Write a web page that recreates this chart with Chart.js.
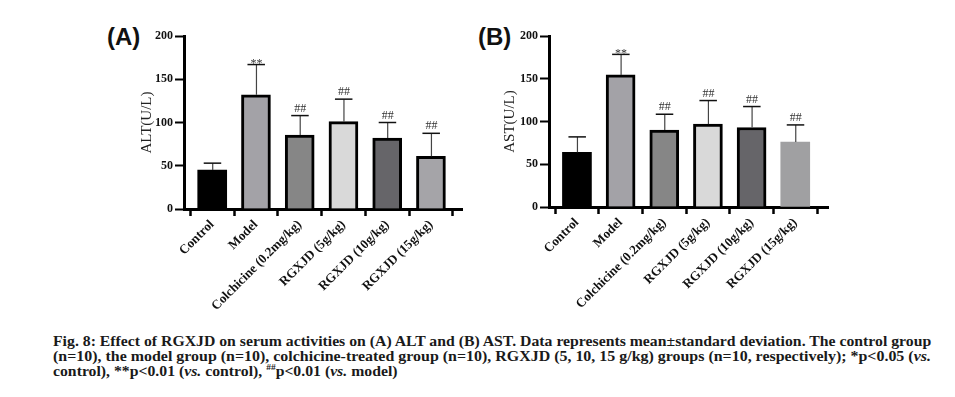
<!DOCTYPE html>
<html><head><meta charset="utf-8">
<script src="https://cdn.jsdelivr.net/npm/chart.js@4"></script>
<style>
body{margin:0;background:#fff;width:955px;height:397px;overflow:hidden;position:relative;}
canvas.panel{position:absolute;top:20px;}
.tag{position:absolute;top:25px;font:bold 24px/24px "Liberation Sans",Arial,sans-serif;color:#111;}
.cap{position:absolute;left:53px;font:bold 15px/15px "Liberation Serif","Times New Roman",serif;white-space:nowrap;transform-origin:0 0;color:#1a1a1a;}
.cap sup{font-size:9px;line-height:0;}
</style></head><body>
<div class="tag" style="left:107px">(A)</div>
<div class="tag" style="left:478px">(B)</div>
<canvas id="cA" class="panel" width="380" height="300" style="left:90px"></canvas>
<canvas id="cB" class="panel" width="380" height="300" style="left:455px"></canvas>
<div class="cap" id="l1" style="top:334px">Fig. 8: Effect of RGXJD on serum activities on (A) ALT and (B) AST. Data represents mean±standard deviation. The control group</div>
<div class="cap" id="l2" style="top:349px">(n=10), the model group (n=10), colchicine-treated group (n=10), RGXJD (5, 10, 15 g/kg) groups (n=10, respectively); *p&lt;0.05 (<i>vs.</i></div>
<div class="cap" id="l3" style="top:364px">control), **p&lt;0.01 (<i>vs.</i> control), <sup>##</sup>p&lt;0.01 (<i>vs.</i> model)</div>
<script>
const categories = ['Control','Model','Colchicine (0.2mg/kg)','RGXJD (5g/kg)','RGXJD (10g/kg)','RGXJD (15g/kg)'];
const altMean = [45, 132, 85.5, 101, 82, 61];
const altSD   = [8, 35, 22.5, 26, 18, 26.5];
const astMean = [64, 154.5, 90, 97, 93, 76];
const astSD   = [18, 24, 18.5, 27.5, 24.5, 20];
const sigMarks = ['', '**', '##', '##', '##', '##'];
const yTicks = [0, 50, 100, 150, 200];

const fillA = ['#000000','#a3a2a7','#868686','#d9d9d9','#666569','#a5a4a8'];
const fillB = ['#000000','#a3a2a7','#868686','#d9d9d9','#666569','#a0a0a2'];
const bwA = [0,3,3,3,3,3];
const bwB = [0,3,3,3,3,0];

function errPlugin(sds){
  return {
    id:'err',
    afterDatasetsDraw(chart){
      const ctx = chart.ctx, meta = chart.getDatasetMeta(0), y = chart.scales.y;
      const ds = chart.data.datasets[0].data;
      meta.data.forEach((bar,i)=>{
        const v = ds[i].y;
        const top = y.getPixelForValue(v), e = y.getPixelForValue(v + sds[i]);
        const x = bar.x;
        ctx.save();
        ctx.strokeStyle = '#444'; ctx.lineWidth = 1.2;
        ctx.beginPath(); ctx.moveTo(x+0.5, top); ctx.lineTo(x+0.5, e); ctx.stroke();
        ctx.strokeStyle = '#111'; ctx.lineWidth = 1.5;
        ctx.beginPath(); ctx.moveTo(x-8.5, e); ctx.lineTo(x+9, e); ctx.stroke();
        const s = sigMarks[i];
        if (s){
          ctx.fillStyle = '#333'; ctx.font = '12px "Liberation Serif"';
          ctx.textAlign = 'center'; ctx.textBaseline = 'alphabetic';
          ctx.fillText(s, x+0.5, s === '**' ? e + 2.5 : e - 4);
        }
        ctx.restore();
      });
    }
  };
}

function makeChart(id, means, sds, title, o){
  new Chart(document.getElementById(id), {
    type:'bar',
    data:{datasets:[{
      data: means.map((v,i)=>({x:i, y:v})),
      backgroundColor:o.fill, borderColor:'#000', borderWidth:o.bw,
      barThickness:29, borderSkipped:'bottom'
    }]},
    options:{
      responsive:false, animation:false,
      layout:{padding:{top:16, right:o.padR, left:0, bottom:0}},
      plugins:{legend:{display:false}, tooltip:{enabled:false}},
      scales:{
        x:{type:'linear', min:o.xmin, max:o.xmax, offset:false,
          afterFit(s){ s.height = o.xh; },
          afterBuildTicks(s){ s.ticks = categories.map((c,i)=>({value:i})); },
          grid:{drawOnChartArea:false, drawTicks:true, tickLength:7, tickWidth:2.5, tickColor:'#000'},
          border:{color:'#000', width:3},
          ticks:{autoSkip:false, minRotation:45, maxRotation:45, padding:1, color:'#111',
            font:{family:'Liberation Serif', weight:'bold', size:13},
            callback:(v)=>categories[v] ?? ''}
        },
        y:{min:0, max:200,
          afterFit(s){ s.width = 94; },
          afterBuildTicks(s){ s.ticks = yTicks.map(v=>({value:v})); },
          grid:{drawOnChartArea:false, drawTicks:true, tickLength:9, tickWidth:2, tickColor:'#000'},
          border:{color:'#000', width:3},
          ticks:{padding:2, color:'#111', font:{family:'Liberation Serif', weight:'bold', size:12}},
          title:{display:true, text:title, color:'#222', font:{family:'Liberation Serif', size:15}, padding:{top:o.tp, bottom:0}}
        }
      }
    },
    plugins:[errPlugin(sds)]
  });
}

makeChart('cA', altMean, altSD, 'ALT(U/L)', {fill:fillA, bw:bwA, padR:8, xmin:-0.645, xmax:5.71, xh:111, tp:48});
makeChart('cB', astMean, astSD, 'AST(U/L)', {fill:fillB, bw:bwB, padR:7, xmin:-0.64, xmax:5.75, xh:113, tp:46});

function fit(){
  const l1 = document.getElementById('l1'), l2 = document.getElementById('l2'), l3 = document.getElementById('l3');
  const s1 = 878 / l1.scrollWidth, s2 = 878 / l2.scrollWidth;
  l1.style.transform = 'scaleX(' + s1 + ')';
  l2.style.transform = 'scaleX(' + s2 + ')';
  l3.style.transform = 'scaleX(' + s1 + ')';
}
fit();
</script>
</body></html>
